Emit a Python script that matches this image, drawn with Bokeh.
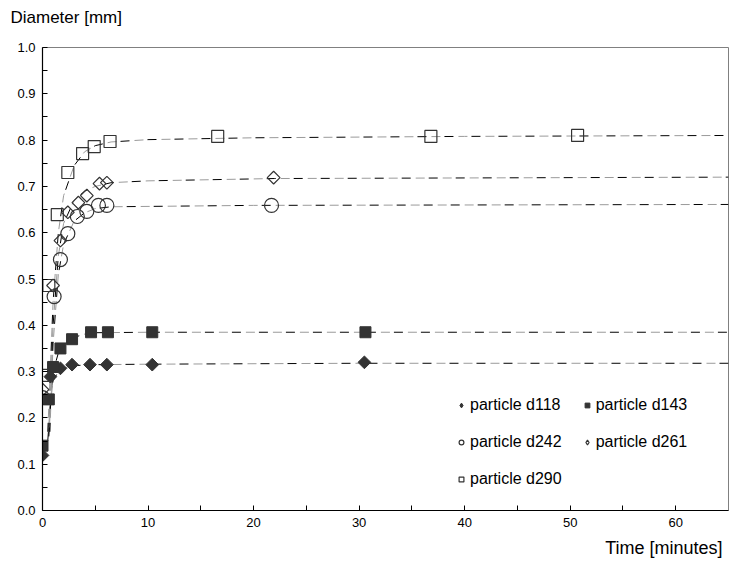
import math
from bokeh.plotting import figure
from bokeh.models import Legend, LegendItem, Title, FixedTicker, Range1d, CustomJSTickFormatter
from bokeh.embed import file_html
from bokeh.resources import INLINE

# ---- data ----
t118 = [0.0, 0.75, 1.7, 2.8, 4.5, 6.1, 10.4, 30.5]
d118 = [0.119, 0.289, 0.307, 0.315, 0.315, 0.315, 0.315, 0.320]

t143 = [0.0, 0.6, 1.0, 1.7, 2.8, 4.6, 6.2, 10.4, 30.6]
d143 = [0.140, 0.240, 0.310, 0.350, 0.370, 0.385, 0.385, 0.385, 0.385]

t242 = [0.0, 1.1, 1.7, 2.4, 3.3, 4.2, 5.3, 6.1, 21.7]
d242 = [0.244, 0.462, 0.542, 0.598, 0.635, 0.646, 0.659, 0.659, 0.659]

t261 = [0.0, 1.0, 1.7, 2.4, 3.4, 4.2, 5.4, 6.1, 21.9]
d261 = [0.261, 0.486, 0.583, 0.644, 0.665, 0.680, 0.706, 0.708, 0.719]

t290 = [0.0, 0.6, 1.4, 2.4, 3.8, 4.9, 6.4, 16.6, 36.8, 50.7]
d290 = [0.292, 0.486, 0.639, 0.730, 0.771, 0.786, 0.797, 0.808, 0.808, 0.810]

# fitted curves
ft118 = [0.6, 0.8, 1.0, 1.5, 2.0, 3.0, 5.0, 10.0, 30.0, 65.0]
fd118 = [0.16, 0.24, 0.28, 0.300, 0.308, 0.313, 0.315, 0.316, 0.318, 0.318]

ft143 = [0.5, 0.7, 1.0, 1.5, 2.0, 3.0, 4.0, 5.0, 10.0, 65.0]
fd143 = [0.15, 0.22, 0.30, 0.340, 0.358, 0.374, 0.381, 0.384, 0.385, 0.385]

ft242 = [0.7, 1.0, 1.5, 2.0, 3.0, 4.0, 5.0, 6.5, 20.0, 65.0]
fd242 = [0.17, 0.36, 0.51, 0.575, 0.625, 0.643, 0.652, 0.656, 0.659, 0.661]

ft261 = [0.6, 1.0, 1.5, 2.0, 3.0, 4.0, 5.0, 6.5, 10.0, 22.0, 65.0]
fd261 = [0.17, 0.40, 0.55, 0.62, 0.670, 0.690, 0.700, 0.708, 0.712, 0.717, 0.720]

ft290 = [0.5, 1.0, 1.5, 2.0, 3.0, 4.0, 5.0, 6.5, 10.0, 20.0, 40.0, 65.0]
fd290 = [0.17, 0.45, 0.60, 0.680, 0.745, 0.775, 0.788, 0.796, 0.801, 0.805, 0.808, 0.810]

x_ticks = [0, 10, 20, 30, 40, 50, 60]
y_ticks = [0.0, 0.1, 0.2, 0.3, 0.4, 0.5, 0.6, 0.7, 0.8, 0.9, 1.0]

FONT = "Liberation Sans"
INK = "#333333"

p = figure(output_backend="svg", toolbar_location=None,
           frame_width=686, frame_height=463,
           min_border_left=42, min_border_right=6, min_border_top=47, min_border_bottom=56,
           x_range=Range1d(0, 65), y_range=Range1d(0, 1.0))
p.background_fill_color = "white"
p.border_fill_color = "white"
p.outline_line_color = "#808080"
p.xgrid.visible = False
p.ygrid.visible = False

for ax in (p.xaxis[0], p.yaxis[0]):
    ax.axis_line_color = "black"
    ax.axis_line_width = 1.2
    ax.major_tick_in = 5
    ax.major_tick_out = 0
    ax.minor_tick_in = 5
    ax.minor_tick_out = 0
    ax.major_label_text_font = FONT
    ax.major_label_text_font_size = "13px"
    ax.major_label_text_color = "black"
p.xaxis.ticker = FixedTicker(ticks=x_ticks, minor_ticks=[5, 15, 25, 35, 45, 55])
p.yaxis.ticker = FixedTicker(ticks=y_ticks, minor_ticks=[i / 20 for i in range(1, 20, 2)])
p.xaxis.major_label_standoff = 7
p.yaxis.major_label_standoff = 7
p.yaxis.formatter = CustomJSTickFormatter(code="return tick.toFixed(1);")

# fitted dashed curves: alternating black / grey dashes
for ft, fd in [(ft118, fd118), (ft143, fd143), (ft242, fd242), (ft261, fd261), (ft290, fd290)]:
    p.line(ft, fd, line_color="black", line_width=1, line_dash="9 18", line_dash_offset=0)
    p.line(ft, fd, line_color="#9a9a9a", line_width=1, line_dash="9 18", line_dash_offset=13)

rot = math.pi / 4
# hidden diamond renderers, used only for the legend glyphs
l118 = p.scatter(t118, d118, marker="diamond", size=12, fill_color=INK, line_color=INK, visible=False)
l261 = p.scatter(t261, d261, marker="diamond", size=12, fill_color="white", line_color=INK, line_width=1.2, visible=False)

p.scatter(t118, d118, marker="square", angle=rot, size=9, fill_color=INK, line_color=INK)
r143 = p.scatter(t143, d143, marker="square", size=11, fill_color=INK, line_color=INK)
r242 = p.scatter(t242, d242, marker="circle", size=14, fill_color="white", fill_alpha=0, line_color=INK, line_width=1.2)
p.scatter(t261, d261, marker="square", angle=rot, size=9, fill_color="white", fill_alpha=0, line_color=INK, line_width=1.2)
r290 = p.scatter(t290, d290, marker="square", size=12, fill_color="white", fill_alpha=0, line_color=INK, line_width=1.2)

legend = Legend(items=[
    LegendItem(label="particle d118", renderers=[l118]),
    LegendItem(label="particle d242", renderers=[r242]),
    LegendItem(label="particle d290", renderers=[r290]),
    LegendItem(label="particle d143", renderers=[r143]),
    LegendItem(label="particle d261", renderers=[l261]),
], location=(413, 22), ncols=2,
    label_text_font=FONT, label_text_font_size="16px", label_text_color="black",
    glyph_width=12, glyph_height=12, label_standoff=3, label_width=91,
    spacing=19, padding=0, margin=0, inactive_fill_alpha=0,
    border_line_color=None, background_fill_alpha=0)
p.add_layout(legend, "center")

p.add_layout(Title(text="Diameter [mm]\n\u00a0", align="left", offset=-32, standoff=0,
                   vertical_align="top",
                   text_font=FONT, text_font_size="17px", text_font_style="normal",
                   text_color="black"), "above")
p.add_layout(Title(text="Time [minutes]", align="right", offset=6, standoff=12,
                   text_font=FONT, text_font_size="18px", text_font_style="normal",
                   text_color="black"), "below")

open("out.html", "w").write(file_html(p, INLINE))
